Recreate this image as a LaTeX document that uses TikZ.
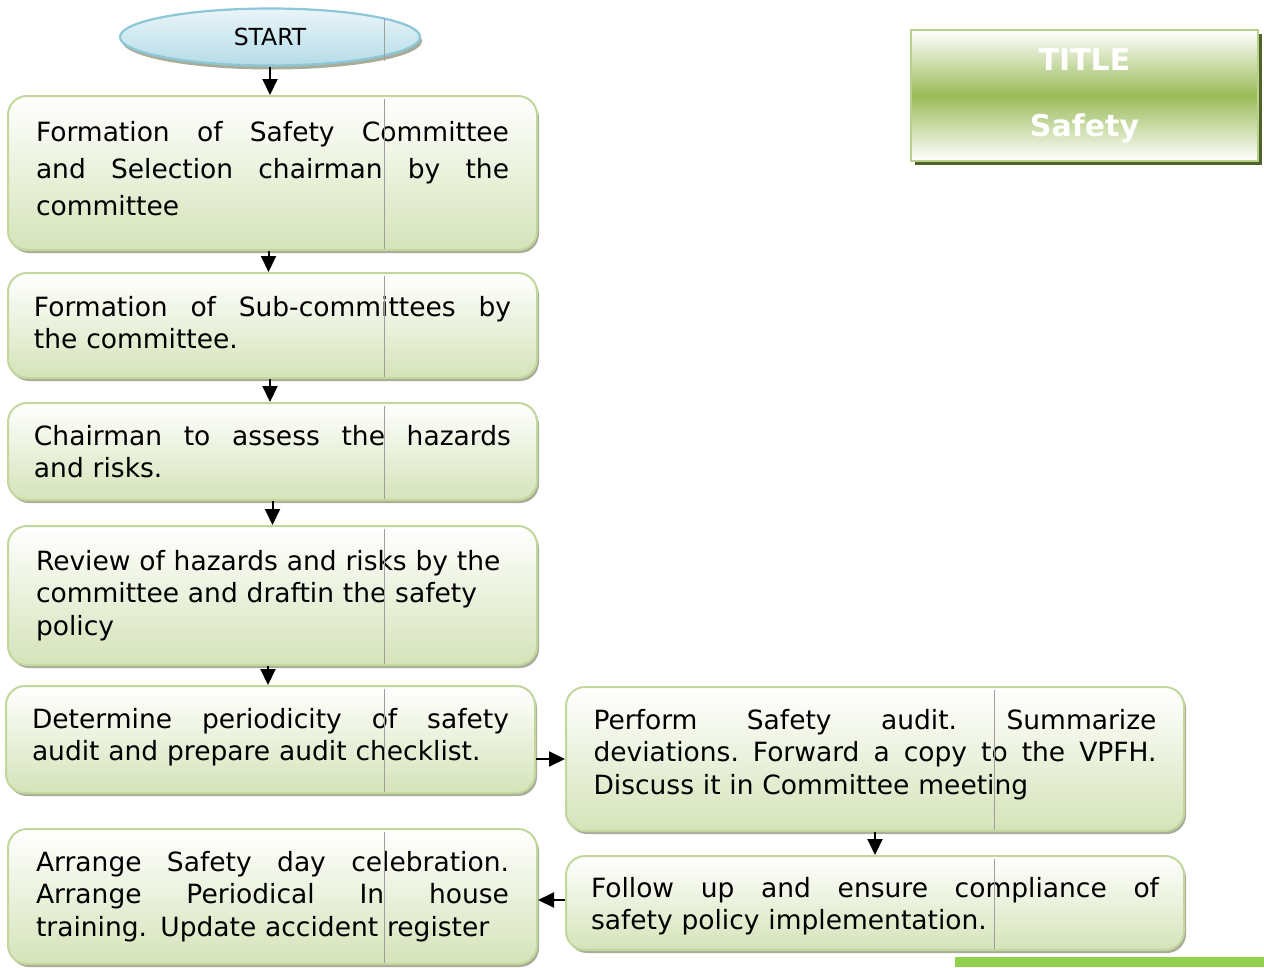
\documentclass[tikz,border=0pt]{standalone}
\usepackage{fontspec}
\setmainfont{DejaVu Sans}
\usetikzlibrary{arrows.meta,shadows,shapes.geometric}

\definecolor{boxedge}{HTML}{C3D69B}
\definecolor{boxbot}{HTML}{D5E3B9}
\definecolor{shadowgray}{HTML}{9EA48F}
\definecolor{startedge}{HTML}{8CC7D8}
\definecolor{starttop}{HTML}{EAF5F9}
\definecolor{startbot}{HTML}{B5DCE7}
\definecolor{titlegreen}{HTML}{9BBB59}
\definecolor{titleedge}{HTML}{B9CF8C}
\definecolor{titleshadow}{HTML}{4F6228}
\definecolor{bargreen}{HTML}{92D050}

% one justified line spread over the full text width
\newcommand\jline[1]{\makebox[\hsize][s]{\spaceskip=0.318em plus 20em\xspaceskip=0.318em plus 20em\relax #1}}
% invisible struts that set a line's depth or height
\newcommand\tailroom[1]{\rule[-#1]{0pt}{0pt}}
\newcommand\headroom[1]{\rule{0pt}{#1}}

\begin{document}
\begin{tikzpicture}[x=1pt,y=-1pt,
  stepbox/.style={draw=boxedge, line width=2pt, rounded corners=19pt,
    top color=white, bottom color=boxbot, inner sep=0pt, align=left,
    font=\fontsize{26.5}{32.5}\selectfont,
    drop shadow={shadow xshift=2pt, shadow yshift=-3pt, fill=shadowgray, opacity=0.9}},
  startshape/.style={ellipse, draw=startedge, line width=2.2pt,
    top color=starttop, bottom color=startbot, inner sep=0pt,
    minimum width=300pt, minimum height=57pt,
    font=\fontsize{23.5}{28}\selectfont,
    drop shadow={shadow xshift=2pt, shadow yshift=-4pt, fill=shadowgray, opacity=0.9}},
  titlebox/.style={draw=titleedge, line width=2.5pt,
    top color=white, bottom color=white, middle color=titlegreen,
    minimum width=347pt, minimum height=131pt, inner sep=0pt, align=center,
    text=white, font=\bfseries\fontsize{30}{66}\selectfont,
    drop shadow={shadow xshift=4pt, shadow yshift=-4pt, fill=titleshadow, opacity=1}},
  flow/.style={line width=2pt, -{Triangle[length=16pt,width=15pt]}},
  guide/.style={draw=gray!75, line width=0.6pt}]
\useasboundingbox (0,0) rectangle (1264,967);

% start terminal
\node[startshape] (start) at (270,37) {START};

% left column of steps
\node[stepbox, minimum width=529pt, minimum height=154pt, text width=473pt,
      font=\fontsize{26.5}{37}\selectfont] (b1) at (272.5,173)
  {\jline{Formation of Safety Committee}\\\jline{and Selection chairman by the}\\committee\tailroom{10pt}};
\node[stepbox, minimum width=529pt, minimum height=105pt, text width=477pt] (b2) at (272.5,325.5)
  {\jline{Formation of Sub-committees by}\\the committee.\tailroom{6pt}};
\node[stepbox, minimum width=529pt, minimum height=97pt, text width=477pt] (b3) at (272.5,451.5)
  {\jline{Chairman to assess the hazards}\\and risks.};
\node[stepbox, minimum width=529pt, minimum height=139pt, text width=473pt] (b4) at (272.5,595.5)
  {Review of hazards and risks by the\\committee and draftin the safety\\policy};
\node[stepbox, minimum width=529pt, minimum height=107pt, text width=477pt] (b5) at (270.5,739.5)
  {\jline{Determine periodicity of safety}\\audit and prepare audit checklist.\tailroom{10pt}};
\node[stepbox, minimum width=529pt, minimum height=135pt, text width=473pt] (b6) at (272.5,896.5)
  {\jline{Arrange Safety day celebration.}\\\jline{Arrange Periodical In house}\\training. Update accident register};

% right column of steps
\node[stepbox, minimum width=618pt, minimum height=144pt, text width=563pt] (r1) at (875,759)
  {\jline{Perform Safety audit. Summarize}\\\jline{deviations. Forward a copy to the VPFH.}\\Discuss it in Committee meeting\tailroom{14.5pt}};
\node[stepbox, minimum width=618pt, minimum height=94pt, text width=568pt] (r2) at (875,903)
  {\jline{\headroom{26pt}Follow up and ensure compliance of}\\safety policy implementation.};

% title panel
\node[titlebox] (title) at (1084.5,95.5) {TITLE\\Safety};

% thin column rules crossing the shapes
\coordinate (cl) at (384,0);
\coordinate (cr) at (994,0);
\draw[guide] ([yshift=-12pt]start.north -| cl) -- ([yshift=6pt]start.south -| cl);
\foreach \n in {b1,b2,b3,b4,b5,b6}
  \draw[guide] ([yshift=-4pt]\n.north -| cl) -- ([yshift=2pt]\n.south -| cl);
\foreach \n in {r1,r2}
  \draw[guide] ([yshift=-4pt]\n.north -| cr) -- ([yshift=2pt]\n.south -| cr);

% connectors
\draw[flow] (start.south) -- (start.south |- b1.north);
\draw[flow] ([xshift=-4pt]b1.south) -- ([xshift=-4pt]b1.south |- b2.north);
\draw[flow] ([xshift=-2.5pt]b2.south) -- ([xshift=-2.5pt]b2.south |- b3.north);
\draw[flow] (b3.south) -- (b3.south |- b4.north);
\draw[flow] ([xshift=-4.5pt]b4.south) -- ([xshift=-4.5pt]b4.south |- b5.north);
\draw[flow] (b5.east |- r1.west) -- (r1.west);
\draw[flow] (r1.south) -- (r1.south |- r2.north);
\draw[flow] ([yshift=3pt]r2.west) -- ([yshift=3pt]r2.west -| b6.east);

% footer band
\fill[bargreen] (955,957) rectangle (1264,967);
\end{tikzpicture}
\end{document}
